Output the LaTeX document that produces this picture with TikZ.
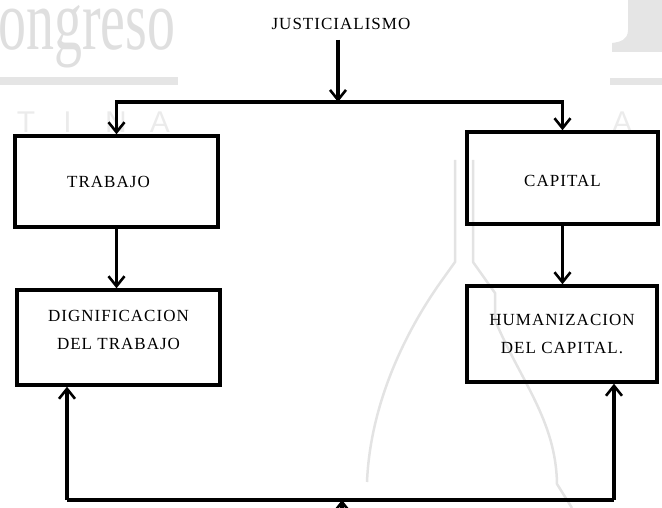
\documentclass[tikz,border=0pt]{standalone}
\usepackage{fontspec}
\setmainfont{Liberation Serif}[LetterSpace=6]
\newfontfamily\wmserif{Liberation Serif}
\newfontfamily\wmsans{Liberation Sans}
\usetikzlibrary{arrows.meta}
\tikzset{
  box/.style={draw, line width=3.4pt, inner sep=0pt, align=center,
    font=\fontsize{17}{28}\selectfont},
  conn/.style={line width=3.4pt, line join=miter},
  arr/.style={conn, -{Straight Barb[length=10pt,width=16pt,line width=2.6pt]}},
  wm/.style={gray!25},
  wmfill/.style={gray!20},
  wmletter/.style={gray!16, anchor=base, inner sep=0pt, font=\wmsans\fontsize{30}{30}\selectfont},
  wmline/.style={gray!22, line width=2.5pt}
}
\begin{document}
\begin{tikzpicture}[x=1pt,y=-1pt]
\useasboundingbox (0,0) rectangle (662,508);
% ---- faint watermark of the scanned page ----
\node[wm, anchor=base west, inner sep=0pt, font=\wmserif\fontsize{86}{86}\selectfont] (wmtext) at (-2,50) {\scalebox{0.65}[1]{ongreso}};
\fill[wmfill] (0,77) rectangle (178,85);
\fill[wmfill] (610,78) rectangle (662,85);
\fill[wmfill] (628,0) -- (628,30) .. controls (628,40) and (620,42) .. (612,43) -- (612,52) -- (662,52) -- (662,0) -- cycle;
\node[wmletter] (wmt) at (26,133) {T};
\node[wmletter] (wmi) at (67.5,133) {I};
\node[wmletter] (wmn) at (116,133) {N};
\node[wmletter] (wma) at (160,133) {A};
\node[wmletter] (wmar) at (622,133) {A};
\draw[wmline] (455,160) -- (455,262) -- (440,283) .. controls (400,340) and (370,410) .. (367,482);
\draw[wmline] (473,160) -- (473,262) -- (495,293) -- (495,320) .. controls (520,380) and (556,420) .. (557,484) -- (572,508);
% ---- diagram ----
\node[inner sep=0pt, font=\fontsize{17}{20}\selectfont] (just) at (341,24) {JUSTICIALISMO};
\node[box, minimum width=203pt, minimum height=91pt] (trabajo) at (116.5,181.5) {TRABAJO\hspace*{16pt}};
\node[box, minimum width=191pt, minimum height=92pt] (capital) at (562.5,178) {\raisebox{-8.5pt}[0pt][0pt]{CAPITAL}};
\node[box, minimum width=203pt, minimum height=95pt] (dign) at (118.5,337.5) {\raisebox{3pt}[0pt][0pt]{\begin{tabular}{@{}c@{}}DIGNIFICACION\\DEL TRABAJO\end{tabular}}};
\node[box, minimum width=190pt, minimum height=96pt] (human) at (562,334) {HUMANIZACION\\DEL CAPITAL.};
\coordinate (jsplit) at (338,102);
\coordinate (bl) at (67,500);
\coordinate (br) at (614,500);
\coordinate (bmid) at (342,500);
\coordinate (bstart) at (342,530);
\draw[arr, shorten <=10pt] (just.south -| jsplit) -- (jsplit);
\draw[arr] (jsplit) -| (trabajo.north);
\draw[arr] (jsplit) -| (capital.north);
\draw[arr] (trabajo.south) -- (trabajo.south |- dign.north);
\draw[arr] (capital.south) -- (capital.south |- human.north);
\draw[conn] (bl) -- (br);
\draw[arr] (bl) -- (bl |- dign.south);
\draw[arr] (br) -- (br |- human.south);
\draw[arr] (bstart) -- (bmid);
\end{tikzpicture}
\end{document}
